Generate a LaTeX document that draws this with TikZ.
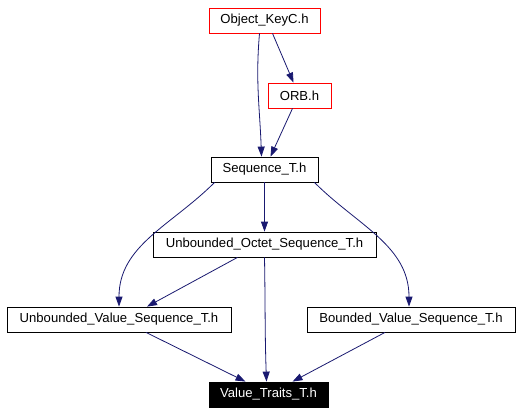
\documentclass[tikz,border=0pt]{standalone}
\usepackage{fontspec}
\setmainfont{Liberation Sans}
\usetikzlibrary{arrows.meta,positioning}
\definecolor{edgeblue}{RGB}{25,25,112}
\tikzset{
filebox/.style={
  rectangle,
  line width=0.8pt,
  inner sep=0pt,
  minimum height=25pt,
  draw=black,
  fill=white,
  font=\fontsize{13.1}{15}\selectfont,
  }
}
\tikzset{
depline/.style={
  line width=0.8pt,
  draw=edgeblue,
  -{Triangle[length=10pt,width=7pt,fill=edgeblue]}
  }
}

\begin{document}
\begin{tikzpicture}[x=1pt,y=-1pt]
    \useasboundingbox[fill=white] (0,0) rectangle (521,413);

    % top part
    \node[filebox, draw=red, minimum width=111pt] (objkey) at (264.5,20.5) {Object\_KeyC.h};
    \node[filebox, draw=red, minimum width=63pt] (orb) at (299.5,95.5) {ORB.h};
    \node[filebox, minimum width=107pt] (seq) at (264.5,169.5) {Sequence\_T.h};

    % middle part
    \node[filebox, minimum width=223pt] (octseq) at (264.5,244.5) {Unbounded\_Octet\_Sequence\_T.h};
    \node[filebox, minimum width=224pt] (unbseq) at (119,319.5) {Unbounded\_Value\_Sequence\_T.h};
    \node[filebox, minimum width=208pt] (bndseq) at (411,319.5) {Bounded\_Value\_Sequence\_T.h};

    % bottom part
    \node[filebox, fill=black, text=white, minimum width=119pt] (traits) at (268.5,394.5) {Value\_Traits\_T.h};

    % top edges
    \draw[depline] ([xshift=-5pt]objkey.south) to[out=-95,in=92] ([xshift=-3pt]seq.north);
    \draw[depline] ([xshift=8pt]objkey.south) -- ([xshift=-6pt]orb.north);
    \draw[depline] ([xshift=-7pt]orb.south) -- ([xshift=6pt]seq.north);

    % middle edges
    \draw[depline] (seq.south) -- (octseq.north);
    \draw[depline] ([xshift=4pt]seq.south west) to[out=-135,in=90] (unbseq.north);
    \draw[depline] ([xshift=-4pt]seq.south east) to[out=-45,in=90] ([xshift=-2pt]bndseq.north);
    \draw[depline] ([xshift=-27pt]octseq.south) -- ([xshift=28pt]unbseq.north);

    % bottom edges
    \draw[depline] (octseq.south) to[out=-89,in=92] ([xshift=-2pt]traits.north);
    \draw[depline] ([xshift=27pt]unbseq.south) -- ([xshift=-23pt]traits.north);
    \draw[depline] ([xshift=-26pt]bndseq.south) -- ([xshift=24pt]traits.north);
  \end{tikzpicture}
\end{document}
